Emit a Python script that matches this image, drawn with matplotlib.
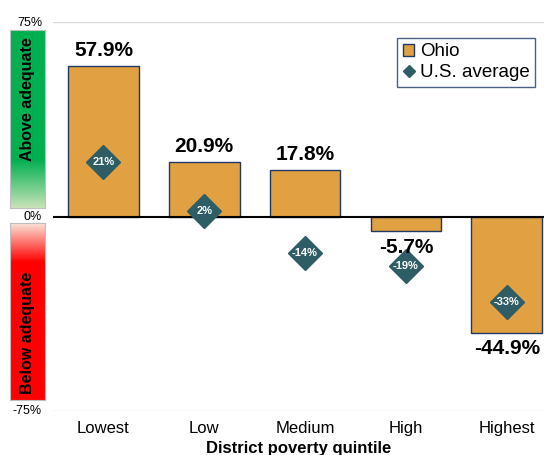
import matplotlib.pyplot as plt
import numpy as np
from matplotlib.colors import LinearSegmentedColormap
from matplotlib.lines import Line2D
from matplotlib.patches import Patch

plt.rcParams['font.family'] = ['Liberation Sans', 'DejaVu Sans']

categories = ["Lowest", "Low", "Medium", "High", "Highest"]
ohio = [57.9, 20.9, 17.8, -5.7, -44.9]
us_avg = [21, 2, -14, -19, -33]

bar_color = "#E1A041"
edge_color = "#1F3864"
diamond_color = "#2F5D66"

W, H = 544, 455
fig = plt.figure(figsize=(W / 100, H / 100), dpi=100)
ax = fig.add_axes([53 / W, 1 - 411 / H, 491 / W, 389 / H])

x = np.arange(len(categories))
ax.bar(x, ohio, width=0.7, color=bar_color, edgecolor=edge_color, linewidth=1,
       zorder=2)
ax.plot(x, us_avg, linestyle="none", marker="D", markersize=17,
        color=diamond_color, zorder=3)

for xi, v in zip(x, us_avg):
    ax.text(xi, v, f"{v}%", ha="center", va="center", color="white",
            fontsize=8, fontweight="bold", zorder=4)

for xi, v in zip(x, ohio):
    if v >= 0:
        ax.text(xi, v + 2.5, f"{v}%", ha="center", va="bottom", fontsize=15,
                fontweight="bold")
    else:
        ax.text(xi, v - 2.5, f"{v}%", ha="center", va="top", fontsize=15,
                fontweight="bold")

ax.axhline(0, color="black", linewidth=1.5, zorder=2)
for y in (75, -75):
    ax.axhline(y, color="#D9D9D9", linewidth=1, zorder=1)

ax.set_xlim(-0.5, 4.37)
ax.set_ylim(-75, 75)
ax.set_yticks([])
ax.set_xticks(x)
ax.set_xticklabels(categories, fontsize=12)
ax.tick_params(axis="x", length=0, pad=7.5)
for s in ax.spines.values():
    s.set_visible(False)
ax.set_xlabel("District poverty quintile", fontsize=12, fontweight="bold",
              labelpad=3.5)

handles = [
    Patch(facecolor=bar_color, edgecolor=edge_color, linewidth=1),
    Line2D([], [], linestyle="none", marker="D", markersize=6,
           color=diamond_color),
]
leg = ax.legend(handles, ["Ohio", "U.S. average"], loc="upper right",
                bbox_to_anchor=(0.982, 0.96), fontsize=13.5, frameon=True,
                fancybox=False, handlelength=0.6, handleheight=0.6,
                handletextpad=0.3, borderpad=0.3, labelspacing=0.2,
                edgecolor=edge_color, borderaxespad=0)
leg.get_frame().set_linewidth(1)

# gradient boxes on the left
green = LinearSegmentedColormap.from_list(
    "g", [(0, "#C8E3B8"), (0.27, "#00B050"), (1, "#00B050")])
red = LinearSegmentedColormap.from_list(
    "r", [(0, "#FF0000"), (0.78, "#FF0000"), (1, "#FBE3D6")])
grad = np.linspace(0, 1, 256).reshape(-1, 1)

gax = fig.add_axes([10 / W, 1 - 208 / H, 35 / W, 178 / H])
gax.imshow(grad, aspect="auto", cmap=green, origin="lower")
gax.set_xticks([])
gax.set_yticks([])
for s in gax.spines.values():
    s.set_color("#BFBFBF")
gax.text(0.5, 0.61, "Above adequate", rotation=90, ha="center", va="center",
         fontsize=11.5, fontweight="bold", transform=gax.transAxes)

rax = fig.add_axes([10 / W, 1 - 400 / H, 35 / W, 177 / H])
rax.imshow(grad, aspect="auto", cmap=red, origin="lower")
rax.set_xticks([])
rax.set_yticks([])
for s in rax.spines.values():
    s.set_color("#BFBFBF")
rax.text(0.5, 0.38, "Below adequate", rotation=90, ha="center", va="center",
         fontsize=11.5, fontweight="bold", transform=rax.transAxes)

# y reference labels drawn on top of the boxes
for yv, lab in ((75, "75%"), (0, "0%"), (-75, "-75%")):
    ypix = 217 - yv * 389 / 150
    fig.text(42 / W, 1 - ypix / H, lab, ha="right", va="center", fontsize=9)

fig.savefig("out.png", dpi=100)
